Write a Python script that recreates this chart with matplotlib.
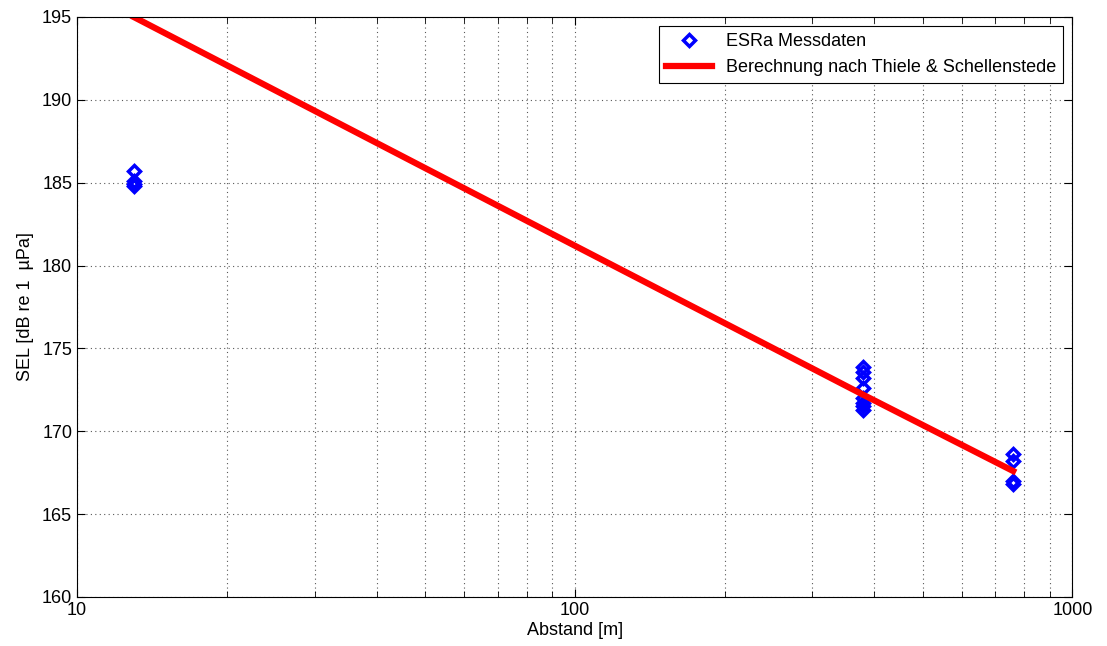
import numpy as np
import matplotlib
matplotlib.use("Agg")
import matplotlib.pyplot as plt
from matplotlib.ticker import LogLocator, NullFormatter, FixedLocator, FixedFormatter

plt.rcParams['font.family'] = ['Liberation Sans', 'DejaVu Sans']

# measured SEL values at the three distances
mess_abstand = [13, 13, 13, 13,
                380, 380, 380, 380, 380, 380, 380, 380,
                760, 760, 760, 760]
mess_sel = [185.7, 185.1, 184.9, 184.8,
            173.9, 173.6, 173.2, 172.6, 172.0, 171.7, 171.5, 171.3,
            168.6, 168.2, 167.0, 166.8]

# calculated curve (Thiele & Schellenstede)
calc_abstand = [13, 100, 380, 760]
calc_sel = [195.0, 181.2, 172.2, 167.6]

fig = plt.figure(figsize=(11.07, 6.46), dpi=100)
ax = fig.add_axes([0.0696, 0.0759, 0.8992, 0.8978])

ax.plot(mess_abstand, mess_sel, linestyle='none', marker='D', ms=6.5,
        mfc='none', mec='b', mew=2.5, label='ESRa Messdaten')
ax.plot(calc_abstand, calc_sel, color='r', lw=4.5, label='Berechnung nach Thiele & Schellenstede')

ax.set_xscale('log')
ax.set_xlim(10, 1000)
ax.set_ylim(160, 195)
ax.xaxis.set_major_locator(FixedLocator([10, 100, 1000]))
ax.xaxis.set_major_formatter(FixedFormatter(['10', '100', '1000']))
ax.xaxis.set_minor_locator(LogLocator(base=10, subs=np.arange(2, 10)))
ax.xaxis.set_minor_formatter(NullFormatter())
ax.set_yticks(np.arange(160, 196, 5))

ax.grid(True, which='major', color='0.35', linestyle=(0, (1, 3)), linewidth=0.8)
ax.grid(True, which='minor', axis='x', color='0.35', linestyle=(0, (1, 3)), linewidth=0.8)
ax.tick_params(which='both', direction='in', top=True, right=True, labelsize=13)
ax.tick_params(which='major', length=6)
ax.tick_params(which='minor', length=4)
for s in ax.spines.values():
    s.set_linewidth(0.8)

ax.set_xlabel('Abstand [m]', fontsize=13, labelpad=2)
ax.set_ylabel('SEL [dB re 1  \u00b5Pa]', fontsize=13, labelpad=6)

leg = ax.legend(loc='upper right', fontsize=13, fancybox=False, framealpha=1,
                edgecolor='k', handlelength=2.5, borderaxespad=0.5)
leg.get_frame().set_linewidth(0.8)

fig.savefig('out.png', dpi=100)
